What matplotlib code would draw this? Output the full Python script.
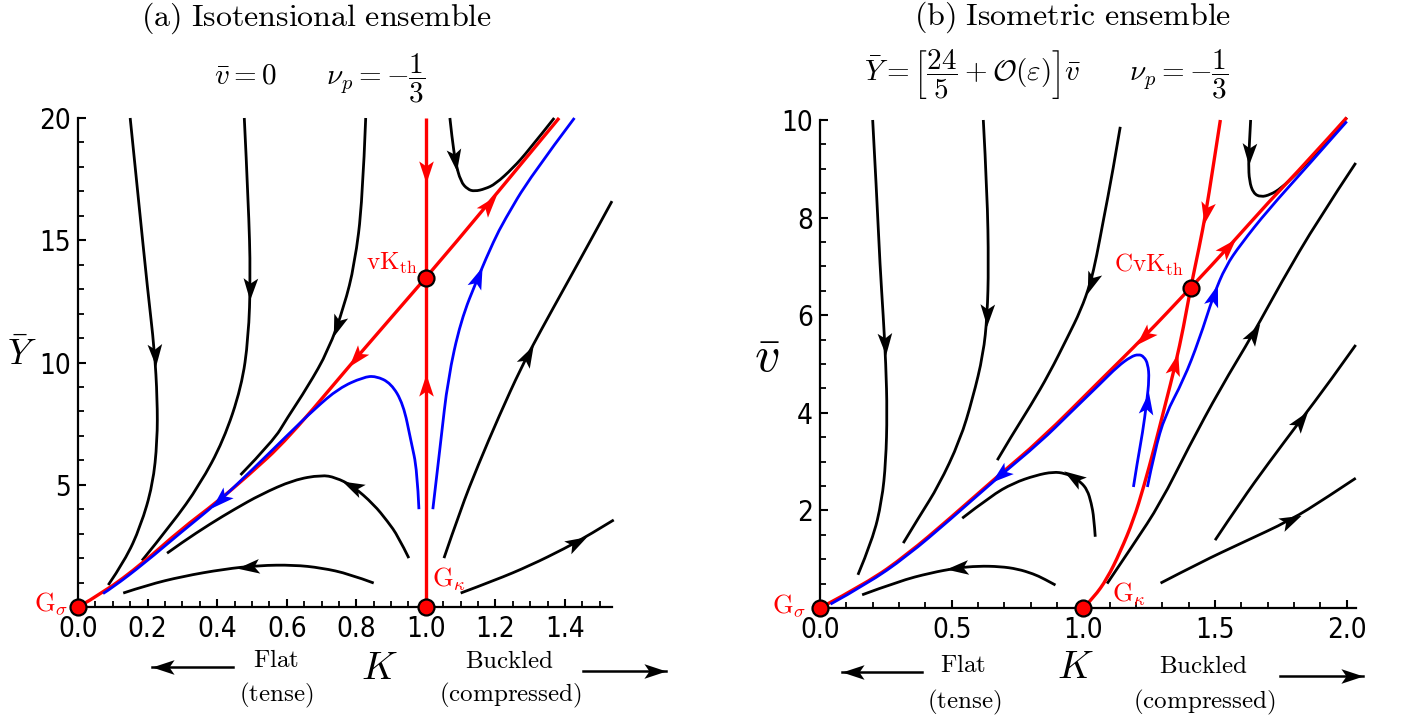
import numpy as np
import matplotlib
matplotlib.use('Agg')
import matplotlib.pyplot as plt
from matplotlib.path import Path
from matplotlib.patches import PathPatch
from matplotlib.markers import MarkerStyle
from matplotlib.transforms import Affine2D
from matplotlib.lines import Line2D
from matplotlib.ticker import MultipleLocator, FuncFormatter

plt.rcParams['mathtext.fontset'] = 'cm'
plt.rcParams['font.family'] = ['DejaVu Sans']

# ---------------- Panel (a): isotensional ensemble (K, Ybar) ----------------
a_black1_K = [0.15, 0.175, 0.20, 0.22, 0.228, 0.228, 0.215, 0.18, 0.135, 0.087]
a_black1_Y = [20.0, 16.5, 13.0, 10.5, 8.5, 6.8, 5.0, 3.3, 1.9, 0.9]
a_black2_K = [0.478, 0.49, 0.496, 0.49, 0.47, 0.418, 0.35, 0.27, 0.184]
a_black2_Y = [20.0, 16.5, 13.5, 11.0, 9.0, 6.8, 5.0, 3.4, 1.9]
a_black3_K = [0.827, 0.818, 0.795, 0.765, 0.72, 0.66, 0.60, 0.562, 0.467]
a_black3_Y = [20.0, 16.6, 14.0, 12.3, 10.5, 9.0, 7.7, 6.8, 5.4]
a_black4_K = [0.951, 0.92, 0.89, 0.85, 0.79, 0.74, 0.70, 0.62, 0.525, 0.45, 0.38, 0.30, 0.256]
a_black4_Y = [2.0, 2.9, 3.5, 4.2, 4.95, 5.3, 5.4, 5.2, 4.6, 4.0, 3.4, 2.65, 2.2]
a_black5_K = [0.85, 0.78, 0.70, 0.62, 0.52, 0.42, 0.30, 0.20, 0.13]
a_black5_Y = [0.98, 1.35, 1.6, 1.72, 1.7, 1.55, 1.25, 0.9, 0.57]
a_black6_K = [1.069, 1.075, 1.085, 1.10, 1.12, 1.14, 1.17, 1.20, 1.25, 1.294, 1.369]
a_black6_Y = [20.0, 19.2, 18.2, 17.4, 17.08, 17.0, 17.1, 17.3, 17.95, 18.65, 20.0]
a_black7_K = [1.052, 1.10, 1.15, 1.21, 1.274, 1.33, 1.40, 1.47, 1.535]
a_black7_Y = [2.0, 4.0, 5.8, 7.8, 9.8, 11.3, 13.1, 14.9, 16.6]
a_black8_K = [1.10, 1.20, 1.30, 1.40, 1.47, 1.54]
a_black8_Y = [0.57, 1.1, 1.7, 2.4, 2.95, 3.56]
a_red_vert_K = [1.0, 1.0]
a_red_vert_Y = [0.0, 20.0]
a_red_diag_K = [0.0, 0.072, 0.187, 0.294, 0.40, 0.487, 0.602, 0.80, 1.0, 1.18, 1.383]
a_red_diag_Y = [0.0, 0.57, 1.8, 3.15, 4.3, 5.35, 6.85, 10.2, 13.46, 16.5, 20.0]
a_blue1_K = [0.98, 0.975, 0.957, 0.935, 0.90, 0.856, 0.82, 0.75, 0.68, 0.60, 0.50, 0.40, 0.30, 0.19, 0.10, 0.072]
a_blue1_Y = [4.0, 5.6, 6.8, 8.3, 9.15, 9.45, 9.4, 8.95, 8.1, 7.0, 5.6, 4.25, 3.1, 1.78, 0.8, 0.55]
a_blue2_K = [1.02, 1.043, 1.063, 1.10, 1.15, 1.196, 1.225, 1.30, 1.427]
a_blue2_Y = [4.0, 6.8, 9.3, 11.7, 13.5, 15.0, 15.8, 17.6, 20.0]
a_fixed_K = [0.0, 1.0, 1.0]
a_fixed_Y = [0.0, 0.0, 13.46]

# ---------------- Panel (b): isometric ensemble (K, vbar) ----------------
b_black1_K = [0.20, 0.215, 0.228, 0.24, 0.25, 0.255, 0.25, 0.235, 0.20, 0.144]
b_black1_v = [10.0, 8.5, 7.0, 6.0, 5.0, 4.0, 3.0, 2.2, 1.4, 0.68]
b_black2_K = [0.62, 0.635, 0.64, 0.635, 0.62, 0.58, 0.532, 0.45, 0.38, 0.316]
b_black2_v = [10.0, 8.5, 7.0, 6.0, 5.2, 4.3, 3.44, 2.5, 1.9, 1.33]
b_black3_K = [0.673, 0.73, 0.80, 0.87, 0.94, 0.99, 1.027, 1.05, 1.076, 1.11, 1.14]
b_black3_v = [3.03, 3.55, 4.15, 4.8, 5.55, 6.1, 6.66, 7.2, 7.95, 8.9, 9.86]
b_black4_K = [1.045, 1.04, 1.03, 1.015, 0.99, 0.962, 0.93, 0.886, 0.82, 0.734, 0.65, 0.54]
b_black4_v = [1.46, 1.85, 2.15, 2.42, 2.58, 2.68, 2.76, 2.79, 2.72, 2.56, 2.3, 1.84]
b_black5_K = [0.894, 0.85, 0.81, 0.75, 0.684, 0.60, 0.52, 0.42, 0.30, 0.16]
b_black5_v = [0.47, 0.6, 0.70, 0.8, 0.85, 0.86, 0.82, 0.72, 0.55, 0.27]
b_black6_K = [1.635, 1.63, 1.627, 1.63, 1.645, 1.673, 1.71, 1.75, 1.81, 1.875, 1.94, 2.0]
b_black6_v = [10.0, 9.5, 9.1, 8.75, 8.5, 8.42, 8.47, 8.6, 8.9, 9.28, 9.65, 10.05]
b_black7_K = [1.09, 1.19, 1.293, 1.40, 1.52, 1.646, 1.75, 1.89, 2.034]
b_black7_v = [0.5, 1.3, 2.15, 3.3, 4.5, 5.63, 6.66, 7.95, 9.12]
b_black8_K = [1.50, 1.60, 1.70, 1.825, 1.93, 2.034]
b_black8_v = [1.39, 2.2, 2.95, 3.85, 4.6, 5.39]
b_black9_K = [1.293, 1.45, 1.60, 1.787, 1.92, 2.034]
b_black9_v = [0.51, 0.95, 1.33, 1.8, 2.25, 2.66]
b_red_diag_K = [0.0, 0.178, 0.33, 0.494, 0.672, 0.837, 1.065, 1.23, 1.407, 1.56, 1.70, 1.85, 2.0]
b_red_diag_v = [0.0, 0.51, 1.09, 1.84, 2.69, 3.44, 4.67, 5.55, 6.56, 7.45, 8.3, 9.15, 10.05]
b_red_steep_K = [1.0, 1.04, 1.09, 1.14, 1.19, 1.23, 1.27, 1.31, 1.35, 1.38, 1.407, 1.44, 1.465, 1.49, 1.52]
b_red_steep_v = [0.0, 0.22, 0.6, 1.15, 1.8, 2.5, 3.3, 4.15, 5.0, 5.75, 6.56, 7.4, 8.1, 8.95, 10.0]
b_blue1_K = [1.19, 1.205, 1.225, 1.24, 1.25, 1.245, 1.23, 1.21, 1.18, 1.13, 1.065, 0.95, 0.837, 0.672, 0.494, 0.33, 0.178, 0.04]
b_blue1_v = [2.48, 3.0, 3.6, 4.2, 4.7, 5.0, 5.15, 5.2, 5.15, 4.95, 4.6, 4.0, 3.4, 2.66, 1.81, 1.06, 0.49, 0.08]
b_blue2_K = [1.243, 1.27, 1.31, 1.38, 1.44, 1.494, 1.54, 1.597, 1.70, 1.85, 2.0]
b_blue2_v = [2.48, 3.2, 3.95, 4.67, 5.5, 6.41, 7.0, 7.45, 8.15, 9.05, 9.97]
b_fixed_K = [0.0, 1.0, 1.407]
b_fixed_v = [0.0, 0.0, 6.56]

BLACK, RED, BLUE = 'black', '#ff0000', '#0000ff'

fig = plt.figure(figsize=(14.01, 7.17), dpi=100)
W, H = 1401.0, 717.0
axA = fig.add_axes([78 / W, 1 - 607 / H, (612 - 78) / W, (607 - 118) / H])
axB = fig.add_axes([820 / W, 1 - 608 / H, (1356 - 820) / W, (608 - 120) / H])
axA.set_xlim(0, 1.535); axA.set_ylim(0, 20)
axB.set_xlim(0, 2.035); axB.set_ylim(0, 10)


def arrow_marker(angle):
    verts = [(0.5, 0), (-0.5, 0.33), (-0.27, 0), (-0.5, -0.33), (0.5, 0)]
    codes = [Path.MOVETO, Path.LINETO, Path.LINETO, Path.LINETO, Path.CLOSEPOLY]
    return MarkerStyle(Path(verts, codes), transform=Affine2D().rotate_deg(angle))


def add_arrow(ax, xs, ys, anchor, sign, color, ms=16, z=3):
    pts = ax.transData.transform(np.column_stack([xs, ys]))
    a = ax.transData.transform(anchor)
    best = None
    for i in range(len(pts) - 1):
        p, q = pts[i], pts[i + 1]
        d = q - p
        t = np.clip(np.dot(a - p, d) / np.dot(d, d), 0, 1)
        proj = p + t * d
        dist = np.hypot(*(a - proj))
        if best is None or dist < best[0]:
            best = (dist, proj, d)
    _, proj, d = best
    ang = np.degrees(np.arctan2(d[1], d[0])) + (180 if sign < 0 else 0)
    pdata = ax.transData.inverted().transform(proj)
    ax.plot([pdata[0]], [pdata[1]], linestyle='none', marker=arrow_marker(ang),
            markersize=ms, color=color, markeredgewidth=0, zorder=z, clip_on=False)


def smooth_path(xs, ys):
    """Quadratic B-spline style path: the read points act as Bezier control points."""
    P = np.column_stack([xs, ys]).astype(float)
    if len(P) < 3:
        return Path(P, [Path.MOVETO] + [Path.LINETO] * (len(P) - 1))
    verts = [P[0]]
    codes = [Path.MOVETO]
    for i in range(1, len(P) - 2):
        verts += [P[i], (P[i] + P[i + 1]) / 2]
        codes += [Path.CURVE3, Path.CURVE3]
    verts += [P[-2], P[-1]]
    codes += [Path.CURVE3, Path.CURVE3]
    return Path(np.array(verts), codes)


def curve(ax, xs, ys, color, lw, z, arrows=()):
    patch = PathPatch(smooth_path(xs, ys), facecolor='none', edgecolor=color, lw=lw,
                      zorder=z, capstyle='butt', joinstyle='round', clip_on=False)
    ax.add_patch(patch)
    for anc, sgn in arrows:
        add_arrow(ax, xs, ys, anc, sgn, color, z=z + 0.5)


LWK, LWR = 2.0, 2.4
# Panel (a)
curve(axA, a_black1_K, a_black1_Y, BLACK, LWK, 2, [((0.222, 10.3), 1)])
curve(axA, a_black2_K, a_black2_Y, BLACK, LWK, 2, [((0.496, 13.0), 1)])
curve(axA, a_black3_K, a_black3_Y, BLACK, LWK, 2, [((0.745, 11.5), 1)])
curve(axA, a_black4_K, a_black4_Y, BLACK, LWK, 2, [((0.79, 5.0), 1)])
curve(axA, a_black5_K, a_black5_Y, BLACK, LWK, 2, [((0.49, 1.65), 1)])
curve(axA, a_black6_K, a_black6_Y, BLACK, LWK, 2, [((1.084, 18.3), 1)])
curve(axA, a_black7_K, a_black7_Y, BLACK, LWK, 2, [((1.294, 10.3), 1)])
curve(axA, a_black8_K, a_black8_Y, BLACK, LWK, 2, [((1.43, 2.75), 1)])
curve(axA, a_red_vert_K, a_red_vert_Y, RED, LWR, 4, [((1.0, 17.8), -1), ((1.0, 9.1), 1)])
curve(axA, a_red_diag_K, a_red_diag_Y, RED, LWR, 4, [((0.80, 10.2), -1), ((1.18, 16.5), 1)])
curve(axA, a_blue1_K, a_blue1_Y, BLUE, LWK, 5, [((0.41, 4.35), 1)])
curve(axA, a_blue2_K, a_blue2_Y, BLUE, LWK, 5, [((1.15, 13.5), 1)])
axA.plot(a_fixed_K, a_fixed_Y, 'o', color=RED, mec='black', mew=1.6, ms=11.5,
         zorder=8, clip_on=False)

# Panel (b)
curve(axB, b_black1_K, b_black1_v, BLACK, LWK, 2, [((0.247, 5.4), 1)])
curve(axB, b_black2_K, b_black2_v, BLACK, LWK, 2, [((0.64, 6.0), 1)])
curve(axB, b_black3_K, b_black3_v, BLACK, LWK, 2, [((1.027, 6.66), -1)])
curve(axB, b_black4_K, b_black4_v, BLACK, LWK, 2, [((0.962, 2.68), 1)])
curve(axB, b_black5_K, b_black5_v, BLACK, LWK, 2, [((0.52, 0.82), 1)])
curve(axB, b_black6_K, b_black6_v, BLACK, LWK, 2, [((1.627, 9.3), 1)])
curve(axB, b_black7_K, b_black7_v, BLACK, LWK, 2, [((1.646, 5.63), 1)])
curve(axB, b_black8_K, b_black8_v, BLACK, LWK, 2, [((1.825, 3.85), 1)])
curve(axB, b_black9_K, b_black9_v, BLACK, LWK, 2, [((1.787, 1.8), 1)])
curve(axB, b_red_diag_K, b_red_diag_v, RED, LWR, 4, [((1.23, 5.55), -1), ((1.55, 7.4), 1)])
curve(axB, b_red_steep_K, b_red_steep_v, RED, LWR, 4, [((1.345, 5.0), 1), ((1.46, 8.1), -1)])
curve(axB, b_blue1_K, b_blue1_v, BLUE, LWK, 5, [((1.24, 4.2), 1), ((0.685, 2.72), 1)])
curve(axB, b_blue2_K, b_blue2_v, BLUE, LWK, 5, [((1.494, 6.41), 1)])
axB.plot(b_fixed_K, b_fixed_v, 'o', color=RED, mec='black', mew=1.6, ms=11.5,
         zorder=8, clip_on=False)

# axes styling
for ax, xmaj, xmin, ymaj, ymin in [(axA, 0.2, 0.05, 5, 1), (axB, 0.5, 0.1, 2, 0.5)]:
    for s in ['top', 'right']:
        ax.spines[s].set_visible(False)
    for s in ['left', 'bottom']:
        ax.spines[s].set_linewidth(1.6)
    ax.xaxis.set_major_locator(MultipleLocator(xmaj))
    ax.xaxis.set_minor_locator(MultipleLocator(xmin))
    ax.yaxis.set_major_locator(MultipleLocator(ymaj))
    ax.yaxis.set_minor_locator(MultipleLocator(ymin))
    ax.tick_params(which='major', direction='in', length=6, width=1.5, labelsize=20)
    ax.tick_params(which='minor', direction='in', length=4, width=1.3)
    ax.tick_params(axis='x', which='major', pad=6)
    ax.tick_params(axis='y', which='major', pad=5)
    ax.xaxis.set_major_formatter(FuncFormatter(lambda v, p: '%.1f' % v))
    ax.yaxis.set_major_formatter(FuncFormatter(lambda v, p: '' if abs(v) < 1e-9 else '%d' % round(v)))
    for lab in ax.get_xticklabels() + ax.get_yticklabels():
        lab.set_fontstretch('condensed')


def ftext(x, y, s, size, color='black', ha='center', va='center'):
    fig.text(x / W, 1 - y / H, s, fontsize=size, color=color, ha=ha, va=va)


# titles and subtitles
ftext(316, 18, r'$\mathrm{(a)\ Isotensional\ ensemble}$', 23)
ftext(320, 78, r'$\bar{v}=0\qquad\nu_p=-\dfrac{1}{3}$', 21)
ftext(1073, 17, r'$\mathrm{(b)\ Isometric\ ensemble}$', 23)
ftext(1046, 75, r'$\bar{Y}=\left[\dfrac{24}{5}+\mathcal{O}(\varepsilon)\right]\bar{v}\qquad\nu_p=-\dfrac{1}{3}$', 21)

# axis labels
ftext(22, 355, r'$\bar{Y}$', 26)
ftext(767, 358, r'$\bar{v}$', 36)
ftext(379, 668, r'$K$', 28)
ftext(1075, 667, r'$K$', 28)

# side notes
ftext(276, 660, r'$\mathrm{Flat}$', 18)
ftext(276, 695, r'$\mathrm{(tense)}$', 18)
ftext(510, 661, r'$\mathrm{Buckled}$', 18)
ftext(510, 695, r'$\mathrm{(compressed)}$', 18)
ftext(963, 665, r'$\mathrm{Flat}$', 18)
ftext(964, 702, r'$\mathrm{(tense)}$', 18)
ftext(1204, 666, r'$\mathrm{Buckled}$', 18)
ftext(1204, 702, r'$\mathrm{(compressed)}$', 18)

# fixed point labels
ftext(68, 604, r'$\mathrm{G}_\sigma$', 19, RED, ha='right')
ftext(432, 579, r'$\mathrm{G}_\kappa$', 19, RED, ha='left')
ftext(418, 263, r'$\mathrm{vK}_\mathrm{th}$', 18, RED, ha='right')
ftext(806, 606, r'$\mathrm{G}_\sigma$', 19, RED, ha='right')
ftext(1112, 594, r'$\mathrm{G}_\kappa$', 19, RED, ha='left')
ftext(1184, 265, r'$\mathrm{CvK}_\mathrm{th}$', 18, RED, ha='right')


# direction arrows below the axes (figure pixel coordinates)
def fig_arrow(x0, x1, y):
    yy = 1 - y / H
    fig.add_artist(Line2D([x0 / W, x1 / W], [yy, yy], color='black', lw=1.8,
                          transform=fig.transFigure))
    ang = 0 if x1 > x0 else 180
    ms = 16
    shift = (ms * 100 / 72.0) / 2 * (1 if x1 > x0 else -1)
    fig.add_artist(Line2D([(x1 - shift) / W], [yy], linestyle='none',
                          marker=arrow_marker(ang), markersize=ms, color='black',
                          markeredgewidth=0, transform=fig.transFigure))


fig_arrow(233, 152, 667)
fig_arrow(583, 666, 671)
fig_arrow(922, 842, 672)
fig_arrow(1280, 1363, 676)

fig.savefig('out.png', dpi=100)
